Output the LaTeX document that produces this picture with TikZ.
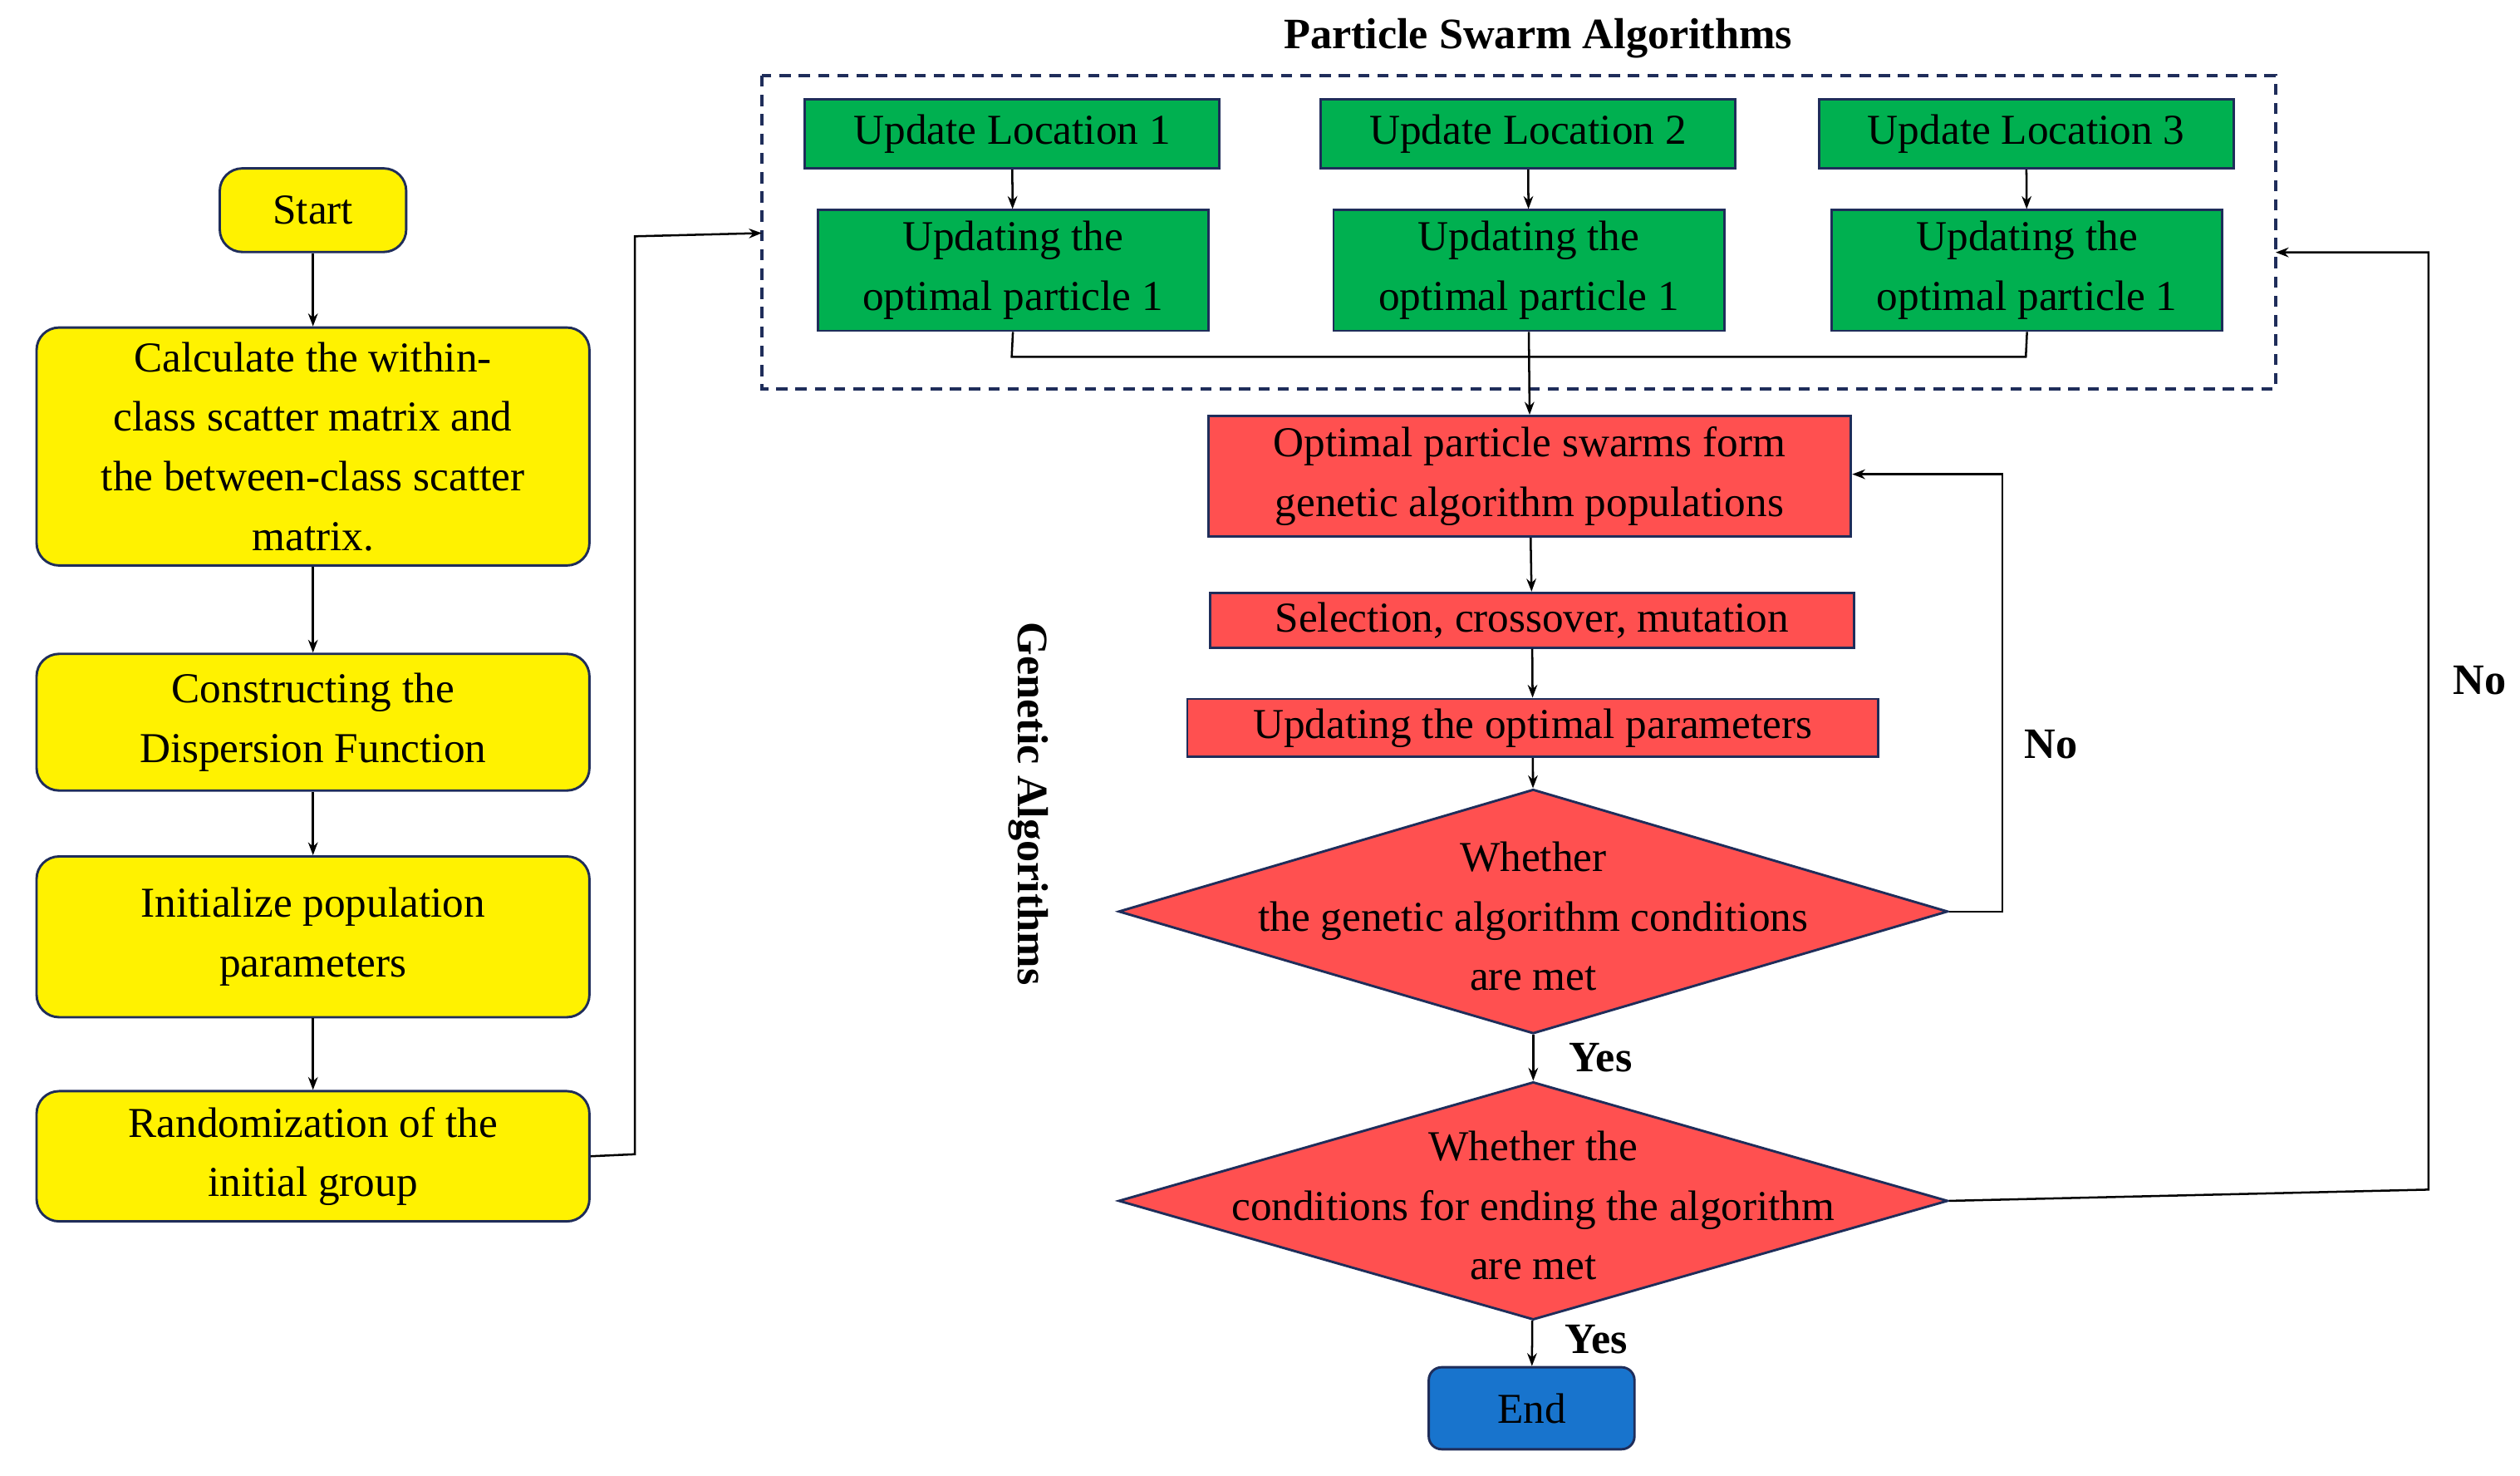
\documentclass[tikz,border=0pt]{standalone}
\usepackage{fontspec}
\setmainfont{Liberation Serif}
\usetikzlibrary{arrows.meta,shapes.geometric}
\definecolor{gr}{HTML}{00B050}
\definecolor{rd}{HTML}{FF5050}
\definecolor{bl}{HTML}{1874CD}
\definecolor{nv}{HTML}{1F2D5A}
\begin{document}
\begin{tikzpicture}[x=1pt,y=-1pt,
  txt/.style={font=\fontsize{26.5}{37}\selectfont,align=center,inner sep=0pt},
  box/.style={txt,draw=nv,line width=1.5pt,anchor=north west},
  yb/.style={box,fill=yellow,rounded corners=14pt},
  gb/.style={box,fill=gr},
  rb/.style={box,fill=rd},
  dm/.style={diamond,draw=nv,line width=1.5pt,fill=rd,inner sep=0pt,shape aspect=3.4},
  ar/.style={-{Stealth[length=8pt,width=6pt]},line width=1.3pt},
  ln/.style={line width=1.3pt},
  lb/.style={font=\fontsize{27}{30}\selectfont\bfseries,inner sep=0pt}]
\useasboundingbox (0,0) rectangle (1568,918);
\node[yb,minimum width=116pt,minimum height=52pt] (s) at (136,104) {Start};
\node[yb,minimum width=344pt,minimum height=148pt] (b1) at (22,203) {Calculate the within-\\class scatter matrix and\\the between-class scatter\\matrix.};
\node[yb,minimum width=344pt,minimum height=85pt] (b2) at (22,406) {Constructing the\\Dispersion Function};
\node[yb,minimum width=344pt,minimum height=100pt] (b3) at (22,532) {Initialize population\\parameters};
\node[yb,minimum width=344pt,minimum height=81pt] (b4) at (22,678) {Randomization of the\\initial group};
\draw[ar] (s) -- (b1);
\draw[ar] (b1) -- (b2);
\draw[ar] (b2) -- (b3);
\draw[ar] (b3) -- (b4);
\draw[dash pattern=on 7pt off 5pt,draw=nv,line width=1.8pt] (474,47) rectangle (1416,242);
\node[lb] (t) at (957,24) {Particle Swarm Algorithms};
\coordinate (pin) at (474,145);
\draw[ar] (b4.east) -- (395,718) -- (395,147) -- (pin);
\foreach \i/\x/\xx in {1/500/508,2/821/829,3/1131/1139}{
  \node[gb,minimum width=258pt,minimum height=43pt] (u\i) at (\x,61) {Update Location \i};
  \node[gb,minimum width=243pt,minimum height=75pt] (o\i) at (\xx,130) {Updating the\\optimal particle 1};
  \draw[ar] (u\i) -- (o\i);
}
\node[rb,minimum width=400pt,minimum height=75pt] (r1) at (751,258) {Optimal particle swarms form\\genetic algorithm populations};
\draw[ln] (o1.south) -- (629.5,222) -- (1260.5,222) -- (o3.south);
\draw[ar] (o2.south) -- (r1.north);
\node[rb,minimum width=401pt,minimum height=34pt] (r2) at (752,368) {Selection, crossover, mutation};
\node[rb,minimum width=430pt,minimum height=36pt] (r3) at (738,434) {Updating the optimal parameters};
\node[dm,minimum width=516pt,minimum height=152pt] (d1) at (954,567) {};
\node[txt] (d1t) at (954,570) {Whether\\the genetic algorithm conditions\\are met};
\node[dm,minimum width=516pt,minimum height=148pt] (d2) at (954,747) {};
\node[txt] (d2t) at (954,750) {Whether the\\conditions for ending the algorithm\\are met};
\node[txt,draw=nv,line width=1.5pt,fill=bl,rounded corners=8pt,minimum width=128pt,minimum height=51pt] (e) at (953,876) {End};
\draw[ar] (r1) -- (r2);
\draw[ar] (r2) -- (r3);
\draw[ar] (r3) -- (d1);
\draw[ar] (d1) -- (d2);
\draw[ar] (d2) -- (e);
\draw[ar] (d1.east) -- (1246,567) -- (1246,295) -- (r1.east |- 0,295);
\coordinate (pr) at (1416,157);
\draw[ar] (d2.east) -- (1511,740) -- (1511,157) -- (pr);
\node[lb] at (1276,463) {No};
\node[lb] at (1543,423) {No};
\node[lb] at (996,658) {Yes};
\node[lb] at (993,833) {Yes};
\node[lb,rotate=-90] (ga) at (640,500) {Genetic Algorithms};
\end{tikzpicture}
\end{document}
